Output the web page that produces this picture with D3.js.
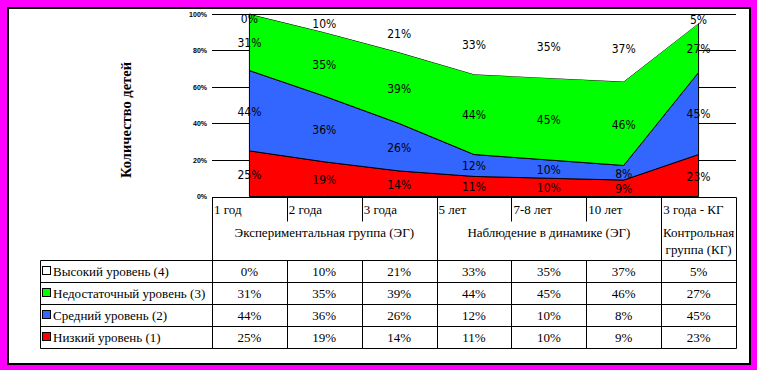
<!DOCTYPE html>
<html>
<head>
<meta charset="utf-8">
<script src="https://cdn.jsdelivr.net/npm/d3@7"></script>
<style>
  html, body { margin: 0; padding: 0; background: #ff00ff; }
  svg { display: block; }
</style>
</head>
<body>
<svg id="chart"></svg>
<script>
// categories (table columns)
var categories = ["1 год", "2 года", "3 года", "5 лет", "7-8 лет", "10 лет", "3 года - КГ"];
var groupNames = ["Экспериментальная группа (ЭГ)", "Наблюдение в динамике (ЭГ)", "Контрольная группа (КГ)"];
var groupSpans = [3, 3, 1];

// series values, %
var low = [25, 19, 14, 11, 10, 9, 23];        // Низкий уровень (1)
var middle = [44, 36, 26, 12, 10, 8, 45];     // Средний уровень (2)
var insufficient = [31, 35, 39, 44, 45, 46, 27]; // Недостаточный уровень (3)
var high = [0, 10, 21, 33, 35, 37, 5];        // Высокий уровень (4)

var yTicks = [0, 20, 40, 60, 80, 100];

var seriesNames = ["Низкий уровень (1)", "Средний уровень (2)", "Недостаточный уровень (3)", "Высокий уровень (4)"];
var seriesColors = ["#ff0000", "#3366ff", "#00ff00", "#ffffff"];
var keys = ["low", "middle", "insufficient", "high"];

var settings = { width: 757, height: 370 };

var svg = d3.select("#chart")
    .attr("width", settings.width)
    .attr("height", settings.height);

// frame
svg.append("rect")
    .attr("x", 0).attr("y", 0)
    .attr("width", settings.width).attr("height", settings.height)
    .attr("fill", "#ff00ff");
svg.append("rect")
    .attr("x", 8).attr("y", 8)
    .attr("width", 742).attr("height", 356)
    .attr("fill", "#ffffff")
    .attr("stroke", "#000").attr("stroke-width", 2);

var rows = categories.map(function (c, i) {
    return { cat: c, low: low[i], middle: middle[i], insufficient: insufficient[i], high: high[i] };
});

var x = d3.scaleBand().domain(categories).range([212, 736]).padding(0);
var y = d3.scaleLinear().domain([0, 100]).range([196.5, 14]);
var cx = function (c) { return x(c) + x.bandwidth() / 2; };

// gridlines
svg.append("g").selectAll("line")
    .data(yTicks)
    .enter().append("line")
    .attr("x1", 212).attr("x2", 736)
    .attr("y1", function (d) { return Math.round(y(d)) + 0.5; })
    .attr("y2", function (d) { return Math.round(y(d)) + 0.5; })
    .attr("stroke", "#000").attr("stroke-width", 1);

svg.append("g").selectAll("text")
    .data(yTicks)
    .enter().append("text")
    .attr("x", 207)
    .attr("y", function (d) { return y(d) + 2.5; })
    .attr("text-anchor", "end")
    .attr("font-family", "Liberation Sans, Arial, sans-serif")
    .attr("font-weight", "bold")
    .attr("font-size", 7)
    .text(function (d) { return d + "%"; });

// y title
svg.append("text")
    .attr("transform", "translate(131,120) rotate(-90)")
    .attr("text-anchor", "middle")
    .attr("font-family", "Liberation Serif, Times New Roman, serif")
    .attr("font-weight", "bold")
    .attr("font-size", 14.5)
    .text("Количество детей");

// stacked areas
var stack = d3.stack().keys(keys);
var layers = stack(rows);

var area = d3.area()
    .x(function (d) { return cx(d.data.cat); })
    .y0(function (d) { return y(d[0]); })
    .y1(function (d) { return y(d[1]); });

svg.append("g").selectAll("path")
    .data(layers)
    .enter().append("path")
    .attr("d", area)
    .attr("fill", function (d, i) { return seriesColors[i]; })
    .attr("stroke", function (d, i) { return i === 3 ? "none" : "#000"; })
    .attr("stroke-width", 1);

// top gridline re-drawn over white series
svg.append("line")
    .attr("x1", 212).attr("x2", 736)
    .attr("y1", Math.round(y(100)) + 0.5).attr("y2", Math.round(y(100)) + 0.5)
    .attr("stroke", "#000");

// data labels
var labelG = svg.append("g");
layers.forEach(function (layer) {
    layer.forEach(function (d) {
        var v = d[1] - d[0];
        var ly = Math.max(y((d[0] + d[1]) / 2) + 1, 19);
        labelG.append("text")
            .attr("x", cx(d.data.cat))
            .attr("y", ly + 4)
            .attr("text-anchor", "middle")
            .attr("font-family", "DejaVu Sans Condensed, DejaVu Sans, sans-serif")
            .attr("font-size", 12)
            .text(v + "%");
    });
});

// table
var serif = "Liberation Serif, Times New Roman, serif";
var tbl = svg.append("g").attr("font-family", serif).attr("font-size", 13);
var headTop = 197, headMid = 221, headBot = 260, rowH = 22;
var tableRight = 736, legendLeft = 40;
var lines = [];
function ln(x1, y1, x2, y2) { lines.push([x1, y1, x2, y2]); }

ln(212, headTop, tableRight, headTop);
ln(legendLeft, headBot, tableRight, headBot);
for (var r = 1; r <= 4; r++) ln(legendLeft, headBot + r * rowH, tableRight, headBot + r * rowH);
ln(legendLeft, headBot, legendLeft, headBot + 4 * rowH);
ln(tableRight, headTop, tableRight, headBot + 4 * rowH);

// column lines: full height at group starts, split otherwise
var groupStart = {};
var acc = 0;
groupSpans.forEach(function (s) { groupStart[acc] = true; acc += s; });
categories.forEach(function (c, i) {
    var xx = x(c);
    if (groupStart[i]) {
        ln(xx, headTop, xx, headBot + 4 * rowH);
    } else {
        ln(xx, headTop, xx, headMid);
        ln(xx, headBot, xx, headBot + 4 * rowH);
    }
});

tbl.selectAll("line")
    .data(lines)
    .enter().append("line")
    .attr("x1", function (d) { return Math.round(d[0]) + 0.5; })
    .attr("y1", function (d) { return Math.round(d[1]) + 0.5; })
    .attr("x2", function (d) { return Math.round(d[2]) + 0.5; })
    .attr("y2", function (d) { return Math.round(d[3]) + 0.5; })
    .attr("stroke", "#000").attr("stroke-width", 1);

// category labels
tbl.selectAll("text.cat")
    .data(categories)
    .enter().append("text")
    .attr("class", "cat")
    .attr("x", function (d) { return x(d) + 2; })
    .attr("y", 214)
    .text(function (d) { return d; });

// group labels
var gi = 0;
groupNames.forEach(function (g, k) {
    var x0 = x(categories[gi]);
    var x1 = x(categories[gi + groupSpans[k] - 1]) + x.bandwidth();
    var mid = (x0 + x1) / 2;
    if (groupSpans[k] === 1) {
        var parts = ["Контрольная", "группа (КГ)"];
        parts.forEach(function (p, j) {
            tbl.append("text").attr("x", mid).attr("y", 237 + j * 17)
                .attr("text-anchor", "middle").text(p);
        });
    } else {
        tbl.append("text").attr("x", mid).attr("y", 237)
            .attr("text-anchor", "middle").text(g);
    }
    gi += groupSpans[k];
});

// data rows, top = Высокий
var tableSeries = [high, insufficient, middle, low];
var tableNames = [seriesNames[3], seriesNames[2], seriesNames[1], seriesNames[0]];
var tableColors = [seriesColors[3], seriesColors[2], seriesColors[1], seriesColors[0]];

tableSeries.forEach(function (vals, r) {
    var rowMid = headBot + r * rowH + rowH / 2;
    tbl.append("rect")
        .attr("x", 42.5).attr("y", Math.round(rowMid - 5) + 0.5)
        .attr("width", 8).attr("height", 8)
        .attr("fill", tableColors[r])
        .attr("stroke", "#000").attr("stroke-width", 1);
    tbl.append("text").attr("x", 53).attr("y", rowMid + 4.5).text(tableNames[r]);
    vals.forEach(function (v, i) {
        tbl.append("text")
            .attr("x", cx(categories[i]))
            .attr("y", rowMid + 4.5)
            .attr("text-anchor", "middle")
            .text(v + "%");
    });
});
</script>
</body>
</html>
